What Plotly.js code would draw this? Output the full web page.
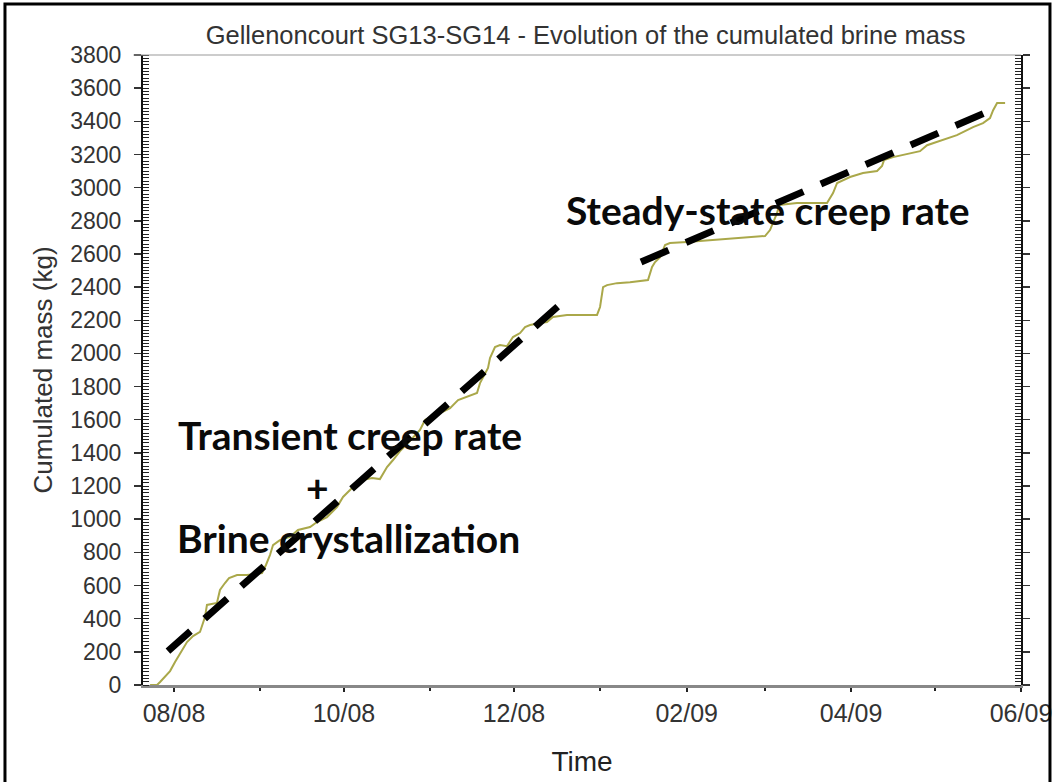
<!DOCTYPE html>
<html><head><meta charset="utf-8">
<script src="https://cdn.plot.ly/plotly-3.0.1.min.js"></script>
<style>html,body{margin:0;padding:0;background:#fff;}#chart{width:1055px;height:782px;}</style>
</head><body><div id="chart"></div>
<script>
// Cumulated brine mass (measured)
const massDates = [
'2008-07-23 10:00','2008-07-25 22:00','2008-07-27 00:00','2008-07-28 19:00','2008-07-30 14:00',
'2008-08-01 09:00','2008-08-02 10:00','2008-08-03 21:00','2008-08-05 16:00','2008-08-07 20:00',
'2008-08-10 08:00','2008-08-12 03:00','2008-08-12 20:00','2008-08-16 10:00','2008-08-17 12:00',
'2008-08-19 07:00','2008-08-20 18:00','2008-08-23 15:00','2008-08-27 05:00','2008-08-30 02:00',
'2008-09-01 14:00','2008-09-03 00:00','2008-09-04 11:00','2008-09-05 13:00','2008-09-08 00:00',
'2008-09-11 15:00','2008-09-14 12:00','2008-09-18 20:00','2008-09-21 08:00','2008-09-24 22:00',
'2008-09-28 12:00','2008-09-30 16:00','2008-10-04 06:00','2008-10-07 12:00','2008-10-11 02:00',
'2008-10-13 22:00','2008-10-16 11:00','2008-10-18 15:00','2008-10-21 03:00','2008-10-22 22:00',
'2008-10-25 19:00','2008-10-28 07:00','2008-10-30 02:00','2008-11-01 15:00','2008-11-04 12:00',
'2008-11-08 02:00','2008-11-10 23:00','2008-11-14 04:00','2008-11-17 18:00','2008-11-18 20:00',
'2008-11-21 17:00','2008-11-22 10:00','2008-11-24 05:00','2008-11-26 00:00','2008-11-28 13:00',
'2008-11-30 16:00','2008-12-03 05:00','2008-12-05 00:00','2008-12-06 19:00','2008-12-10 09:00',
'2008-12-12 21:00','2008-12-15 00:00','2008-12-20 01:00','2008-12-30 20:00','2008-12-31 22:00',
'2009-01-02 00:00','2009-01-03 10:00','2009-01-07 00:00','2009-01-11 16:00','2009-01-18 03:00',
'2009-01-19 14:00','2009-01-20 16:00','2009-01-22 11:00','2009-01-24 06:00','2009-01-26 00:00',
'2009-02-01 03:00','2009-02-10 11:00','2009-02-19 02:00','2009-03-01 03:00','2009-03-02 22:00',
'2009-03-05 11:00','2009-03-06 04:00','2009-03-12 15:00','2009-03-23 09:00','2009-03-25 13:00',
'2009-03-27 00:00','2009-03-31 15:00','2009-04-05 07:00','2009-04-10 08:00','2009-04-12 03:00',
'2009-04-12 20:00','2009-04-16 02:00','2009-04-23 06:00','2009-04-25 18:00','2009-04-28 07:00',
'2009-05-04 00:00','2009-05-06 13:00','2009-05-09 00:00','2009-05-12 15:00','2009-05-14 19:00',
'2009-05-18 09:00','2009-05-20 21:00','2009-05-22 00:00','2009-05-23 10:00','2009-05-26 07:00'
];
const massKg = [
0,0,18,48,84,
139,169,211,259,295,
320,410,483,495,573,
615,645,663,663,669,
675,724,784,844,874,
893,935,953,983,1013,
1073,1134,1194,1236,1248,
1242,1315,1357,1411,1441,
1496,1538,1598,1622,1640,
1670,1719,1737,1761,1821,
1912,1972,2038,2050,2044,
2099,2123,2159,2171,2183,
2189,2220,2232,2232,2280,
2400,2412,2424,2430,2443,
2521,2551,2581,2654,2666,
2672,2684,2696,2708,2744,
2847,2895,2907,2907,2967,
3028,3064,3088,3100,3130,
3166,3184,3208,3220,3256,
3287,3305,3317,3347,3365,
3389,3419,3467,3510,3510
];
// Trend lines
const transientDates = ['2008-07-29 20:00','2008-12-18 15:00'];
const transientKg = [205, 2310];
const steadyDates = ['2009-01-15 15:00','2009-05-23 01:00'];
const steadyKg = [2551, 3480];

// Axes
const xRange = ['2008-07-20 21:00','2009-06-01 00:00'];
const xTickVals = ['2008-08-01','2008-10-01','2008-12-01','2009-02-01','2009-04-01','2009-06-01'];
const xTickText = ['08/08','10/08','12/08','02/09','04/09','06/09'];
const yTickVals = [0,200,400,600,800,1000,1200,1400,1600,1800,2000,2200,2400,2600,2800,3000,3200,3400,3600,3800];
const yTickText = ['0','200','400','600','800','1000','1200','1400','1600','1800','2000','2200','2400','2600','2800','3000','3200','3400','3600','3800'];

const titleText = 'Gellenoncourt SG13-SG14 - Evolution of the cumulated brine mass';
const xTitle = 'Time';
const yTitle = 'Cumulated mass (kg)';
const labelSteady = 'Steady-state creep rate';
const labelTransient = 'Transient creep rate';
const labelPlus = '+';
const labelBrine = 'Brine crystallization';

const traces = [
  {x: massDates, y: massKg, type: 'scatter', mode: 'lines',
   line: {color: '#aaa84a', width: 2}, hoverinfo: 'x+y'},
  {x: transientDates, y: transientKg, type: 'scatter', mode: 'lines',
   line: {color: '#000', width: 7, dash: '30px,19px'}},
  {x: steadyDates, y: steadyKg, type: 'scatter', mode: 'lines',
   line: {color: '#000', width: 7, dash: '30px,19px'}}
];

const annFont = {family: 'Lato, "Open Sans", sans-serif', size: 39, color: '#0a0a0a', weight: 700};
const ann = (x, y, text) => ({xref: 'paper', yref: 'paper', x: x, y: y, xanchor: 'center', yanchor: 'middle',
                             text: text, showarrow: false, font: annFont});
const layout = {
  width: 1055, height: 782,
  margin: {l: 143, r: 34, t: 55, b: 97},
  paper_bgcolor: '#fff', plot_bgcolor: '#fff',
  showlegend: false,
  title: {text: titleText, x: 0.555, xanchor: 'center', y: 0.955, yanchor: 'middle',
          font: {family: '"Liberation Sans", Arial, sans-serif', size: 25.5, color: '#333'}},
  xaxis: {
    type: 'date', range: xRange,
    tickmode: 'array', tickvals: xTickVals, ticktext: xTickText,
    ticks: 'outside', ticklen: 4, tickwidth: 2, tickcolor: '#222',
    minor: {dtick: 'M1', tick0: '2008-08-01', ticks: 'outside', ticklen: 3, tickwidth: 2, tickcolor: '#222'},
    showgrid: false, zeroline: false,
    showline: true, linecolor: '#888', linewidth: 3,
    tickfont: {family: '"Liberation Sans", Arial, sans-serif', size: 25, color: '#333'},
    ticklabelstandoff: 0,
    title: {text: xTitle, standoff: 26, font: {family: '"Liberation Sans", Arial, sans-serif', size: 28, color: '#222'}}
  },
  yaxis: {
    range: [0, 3800],
    tickmode: 'array', tickvals: yTickVals, ticktext: yTickText,
    ticks: 'outside', ticklen: 7, tickwidth: 1.5, tickcolor: '#333',
    minor: {dtick: 20, ticks: 'inside', ticklen: 6, tickwidth: 1, tickcolor: '#222'},
    showgrid: false, zeroline: false,
    showline: true, linecolor: '#111', linewidth: 2, mirror: 'ticks',
    tickfont: {family: '"Liberation Sans", Arial, sans-serif', size: 23, color: '#333'},
    ticklabelstandoff: 8,
    title: {text: yTitle, standoff: 10, font: {family: '"Liberation Sans", Arial, sans-serif', size: 26, color: '#333'}}
  },
  shapes: [
    {type: 'line', xref: 'paper', yref: 'paper', x0: -0.011, x1: 1, y0: 1, y1: 1,
     line: {color: '#999', width: 1}},
    {type: 'rect', xref: 'paper', yref: 'paper', x0: -0.1572, x1: 1.033, y0: -0.17, y1: 1.081,
     line: {color: '#000', width: 3}}
  ],
  annotations: [
    ann(0.7124, 0.754, labelSteady),
    ann(0.2358, 0.397, labelTransient),
    ann(0.1993, 0.3143, labelPlus),
    ann(0.234, 0.2333, labelBrine)
  ]
};
Plotly.newPlot('chart', traces, layout, {displayModeBar: false, staticPlot: true});
</script>
</body></html>
